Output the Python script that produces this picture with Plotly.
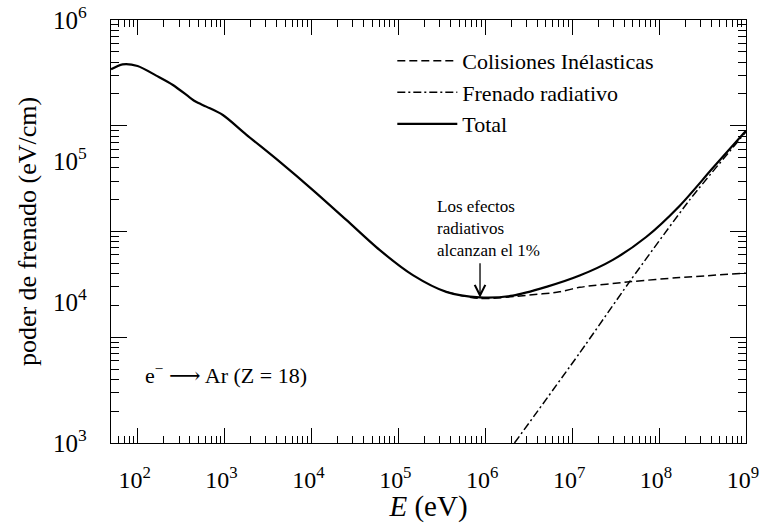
import plotly.graph_objects as go

# ---------------- data ----------------
E_total = [49.4, 67.2, 100, 164, 255, 396, 464, 617, 957, 1778, 4300, 1.04e4, 2.52e4,
           6.08e4, 1.47e5, 3.56e5, 8.6e5, 2.08e6, 5.05e6, 1.22e7, 2.94e7, 7.11e7,
           1.72e8, 4.15e8, 1e9]
S_total = [4.47e5, 4.85e5, 4.72e5, 4.03e5, 3.46e5, 2.83e5, 2.64e5, 2.43e5, 2.12e5,
           1.54e5, 9.89e4, 6.22e4, 3.82e4, 2.34e4, 1.55e4, 1.18e4, 1.08e4, 1.11e4,
           1.28e4, 1.54e4, 1.99e4, 2.89e4, 4.80e4, 8.91e4, 1.64e5]

E_col = [3.56e5, 8.6e5, 3.23e6, 7.15e6, 1.22e7, 4.57e7, 1.72e8, 1e9]
S_col = [1.18e4, 1.06e4, 1.12e4, 1.18e4, 1.27e4, 1.39e4, 1.49e4, 1.60e4]

E_rad = [2.17e6, 1.22e7, 4.57e7, 2.24e8, 1e9]
S_rad = [1.0e3, 4.35e3, 1.39e4, 5.28e4, 1.61e5]

x_tickvals = [1e2, 1e3, 1e4, 1e5, 1e6, 1e7, 1e8, 1e9]
x_ticktext = ["10<sup>%d</sup>" % n for n in range(2, 10)]
y_tickvals = [1e3, 1e4, 1e5, 1e6]
y_ticktext = ["10<sup>%d</sup>" % n for n in range(3, 7)]

# tick-mark scale of the frame (4 decades drawn on the left/right frame)
yt_major = [1, 10, 100, 1000, 10000]
yt_minor = [k * 10 ** n for n in range(0, 4) for k in range(2, 10)]
x_minor = [k * 10 ** n for n in range(1, 9) for k in range(2, 10) if k * 10 ** n >= 50]

FONT = "'Liberation Serif', 'Times New Roman', 'DejaVu Serif', serif"

fig = go.Figure()
fig.add_trace(go.Scatter(x=E_col, y=S_col, mode="lines", name="Colisiones Inélasticas",
                         line=dict(color="black", width=1.5, dash="8px,4px", shape="spline", smoothing=0.8)))
fig.add_trace(go.Scatter(x=E_rad, y=S_rad, mode="lines", name="Frenado radiativo",
                         line=dict(color="black", width=1.5, dash="8px,3px,2px,3px", shape="spline", smoothing=0.6)))
fig.add_trace(go.Scatter(x=E_total, y=S_total, mode="lines", name="Total",
                         line=dict(color="black", width=2.2, shape="spline", smoothing=0.8)))
# invisible trace so the tick-mark axis is drawn
fig.add_trace(go.Scatter(x=[None], y=[None], yaxis="y2", showlegend=False,
                         hoverinfo="skip", mode="lines"))

fig.update_layout(
    width=761, height=523,
    margin=dict(l=111, r=15, t=20, b=80, autoexpand=False),
    paper_bgcolor="white", plot_bgcolor="white",
    font=dict(family=FONT, color="black", size=22),
    showlegend=True,
    legend=dict(x=0.443, y=0.953, xanchor="left", yanchor="top",
                bgcolor="rgba(0,0,0,0)", font=dict(size=22, family=FONT),
                itemwidth=60, tracegroupgap=0),
    xaxis=dict(type="log", range=[1.694, 9.0005], showgrid=False, zeroline=False,
               automargin=False,
               showline=True, linecolor="black", linewidth=1.3, mirror="ticks",
               tickmode="array", tickvals=x_tickvals, ticktext=x_ticktext,
               ticks="inside", ticklen=15, tickwidth=1, tickcolor="black",
               ticklabelstandoff=15, ticklabelshift=-3, ticklabeloverflow="allow",
               tickfont=dict(size=24, family=FONT),
               minor=dict(tickmode="array", tickvals=x_minor, ticks="inside",
                          ticklen=7, tickwidth=1, tickcolor="black", showgrid=False),
               title=dict(text="<i>E</i> (eV)", font=dict(size=29, family=FONT), standoff=0)),
    yaxis=dict(type="log", range=[3, 6], showgrid=False, zeroline=False,
               automargin=False,
               showline=True, linecolor="black", linewidth=1.3, mirror=True,
               tickmode="array", tickvals=y_tickvals, ticktext=y_ticktext,
               ticks="", ticklabelstandoff=18, tickfont=dict(size=25, family=FONT),
               title=dict(text="poder de frenado (eV/cm)", font=dict(size=26, family=FONT),
                          standoff=8)),
    yaxis2=dict(type="log", range=[0, 4], overlaying="y", side="left", anchor="x",
                automargin=False,
                showgrid=False, zeroline=False, showline=False, mirror="ticks",
                tickmode="array", tickvals=yt_major, showticklabels=False,
                ticks="inside", ticklen=16, tickwidth=1, tickcolor="black",
                minor=dict(tickmode="array", tickvals=yt_minor, ticks="inside",
                           ticklen=8, tickwidth=1, tickcolor="black", showgrid=False)),
    annotations=[
        dict(x=5.42, y=4.52, xref="x", yref="y", text="Los efectos<br>radiativos<br>alcanzan el 1%",
             showarrow=False, xanchor="left", yanchor="middle", align="left",
             font=dict(size=17, family=FONT)),
        dict(x=5.94, y=4.03, xref="x", yref="y", ax=0, ay=-36, text="",
             showarrow=True, arrowhead=5, arrowsize=1.6, arrowwidth=1.3, arrowcolor="black"),
        dict(x=2.06, y=3.49, xref="x", yref="y", text="e<sup>−</sup> ⟶ Ar (Z = 18)",
             showarrow=False, xanchor="left", yanchor="middle",
             font=dict(size=22, family=FONT)),
    ],
)

fig.write_html("out.html")
